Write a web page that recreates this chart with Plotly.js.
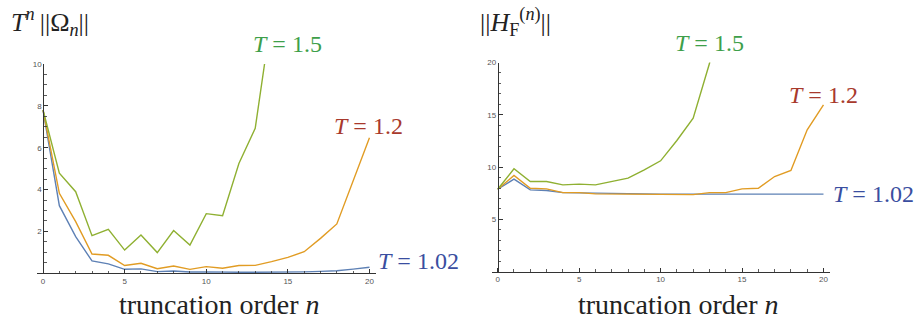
<!DOCTYPE html>
<html>
<head>
<meta charset="utf-8">
<script src="https://cdn.plot.ly/plotly-3.0.1.min.js"></script>
<style>
  html, body { margin: 0; padding: 0; background: #fff; }
  #chart { width: 922px; height: 320px; }
</style>
</head>
<body>
<div id="chart"></div>
<script>
// ---- data ----
const nFull = [0,1,2,3,4,5,6,7,8,9,10,11,12,13,14,15,16,17,18,19,20];
const nShort = [0,1,2,3,4,5,6,7,8,9,10,11,12,13,14];

// Left panel: T^n ||Omega_n||
const omegaT102 = [7.8, 3.23, 1.75, 0.59, 0.45, 0.19, 0.21, 0.08, 0.11, 0.06, 0.07, 0.05, 0.05, 0.05, 0.05, 0.06, 0.07, 0.09, 0.12, 0.2, 0.29];
const omegaT12  = [7.8, 3.82, 2.47, 0.92, 0.86, 0.37, 0.48, 0.22, 0.35, 0.19, 0.32, 0.24, 0.37, 0.38, 0.56, 0.76, 1.03, 1.67, 2.36, 4.46, 6.48];
const omegaT15  = [7.8, 4.78, 3.9, 1.8, 2.1, 1.11, 1.83, 0.99, 2.04, 1.35, 2.85, 2.75, 5.25, 6.93, 12.3];

// Right panel: ||H_F^(n)||
const hfT102 = [7.88, 8.85, 7.82, 7.76, 7.56, 7.53, 7.47, 7.44, 7.42, 7.42, 7.42, 7.42, 7.42, 7.42, 7.42, 7.42, 7.42, 7.42, 7.42, 7.42, 7.42];
const hfT12  = [7.88, 9.2, 7.98, 7.92, 7.56, 7.56, 7.44, 7.44, 7.37, 7.4, 7.37, 7.4, 7.37, 7.56, 7.56, 7.92, 7.98, 9.1, 9.68, 13.56, 15.95];
const hfT15  = [7.88, 9.84, 8.62, 8.62, 8.3, 8.37, 8.3, 8.62, 8.94, 9.74, 10.6, 12.54, 14.68, 19.9, 28];

// tick labels
const xTicks = [0, 5, 10, 15, 20];
const yTicksLeft = [2, 4, 6, 8, 10];
const yTicksRight = [5, 10, 15, 20];

// labels
const seriesLabels = ['<i>T</i> = 1.02', '<i>T</i> = 1.2', '<i>T</i> = 1.5'];
const xTitle = 'truncation order <i>n</i>';
const leftTitle = '<i>T</i><sup><i>n</i></sup>\u2009||\u03A9<sub><i>n</i></sub>||';
const rightTitle = '||<i>H</i><sub>F</sub><sup>(<i>n</i>)</sup>||';

// ---- styles ----
const lineColors = ['#5E81B5', '#E19C24', '#8FB032'];
const labelColors = ['#3A4EA0', '#A8392C', '#3E9F4A'];
const W = 922, H = 320;
const px = v => v / W;
const py = v => 1 - v / H;
const serif = 'Liberation Serif, Times New Roman, serif';
const tickFont = {family: 'Liberation Sans, Arial, sans-serif', size: 8, color: '#555'};
const axCol = '#333';

function line(x, y, c, xa, ya) {
  return {x: x, y: y, type: 'scatter', mode: 'lines', xaxis: xa, yaxis: ya,
          line: {color: c, width: 1.4}, hoverinfo: 'skip', showlegend: false};
}

const data = [
  line(nFull, omegaT102, lineColors[0], 'x', 'y'),
  line(nFull, omegaT12, lineColors[1], 'x', 'y'),
  line(nShort, omegaT15, lineColors[2], 'x', 'y'),
  line(nFull, hfT102, lineColors[0], 'x2', 'y2'),
  line(nFull, hfT12, lineColors[1], 'x2', 'y2'),
  line(nShort, hfT15, lineColors[2], 'x2', 'y2'),
];

function xax(domain, anchor, range) {
  return {domain: domain, anchor: anchor, range: range, showgrid: false, zeroline: false,
          showline: true, linecolor: axCol, linewidth: 1, ticks: 'inside', ticklen: 4, tickcolor: axCol,
          tickwidth: 1, tickmode: 'array', tickvals: xTicks, tickfont: tickFont,
          minor: {dtick: 1, tick0: 0, ticks: 'inside', ticklen: 2.5, tickcolor: axCol, tickwidth: 0.8}};
}
function yax(domain, range, tv, pos, mdt) {
  return {domain: domain, anchor: 'free', position: pos, range: range, showgrid: false, zeroline: false,
          showline: true, linecolor: axCol, linewidth: 1, ticks: 'inside', ticklen: 4, tickcolor: axCol,
          tickwidth: 1, tickmode: 'array', tickvals: tv, tickfont: tickFont,
          minor: {dtick: mdt, tick0: 0, ticks: 'inside', ticklen: 2.5, tickcolor: axCol, tickwidth: 0.8}};
}

const ann = [];
function addText(text, x, y, color, size, xanchor) {
  ann.push({text: text, xref: 'paper', yref: 'paper', x: px(x), y: py(y), xanchor: xanchor || 'center',
            yanchor: 'middle', showarrow: false, font: {family: serif, size: size, color: color}});
}
// titles
addText(leftTitle, 9, 22, '#222', 26, 'left');
addText(rightTitle, 478, 22, '#222', 26, 'left');
// x-axis titles
addText(xTitle, 219, 304, '#222', 28);
addText(xTitle, 678, 304, '#222', 28);
// series labels left
addText(seriesLabels[2], 287, 44, labelColors[2], 24);
addText(seriesLabels[1], 368, 126, labelColors[1], 24);
addText(seriesLabels[0], 376, 261, labelColors[0], 24, 'left');
// series labels right
addText(seriesLabels[2], 709, 43, labelColors[2], 24);
addText(seriesLabels[1], 823, 95, labelColors[1], 24);
addText(seriesLabels[0], 831, 194, labelColors[0], 24, 'left');

const layout = {
  width: W, height: H,
  margin: {l: 0, r: 0, t: 0, b: 0},
  paper_bgcolor: '#fff', plot_bgcolor: '#fff',
  showlegend: false,
  xaxis: xax([px(37), px(376)], 'y', [-0.37, 20.4]),
  yaxis: yax([1 - 273.3 / H, 1 - 64 / H], [0, 10], yTicksLeft, px(43.3), 0.5),
  xaxis2: xax([px(492), px(830)], 'y2', [-0.35, 20.4]),
  yaxis2: yax([1 - 271.7 / H, 1 - 62.5 / H], [0, 20], yTicksRight, px(497.7), 1),
  annotations: ann,
};

Plotly.newPlot('chart', data, layout, {staticPlot: true, displayModeBar: false});
</script>
</body>
</html>
